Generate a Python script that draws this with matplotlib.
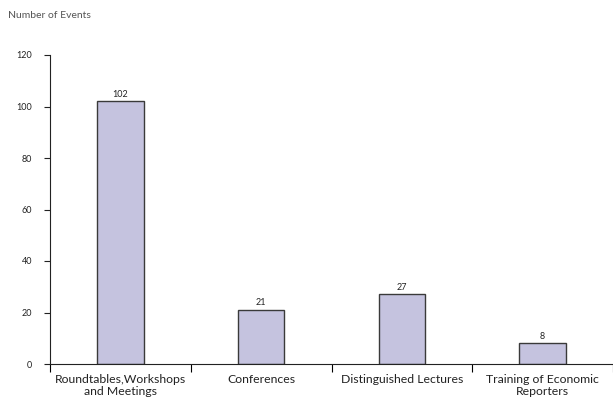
import matplotlib
matplotlib.use("Agg")
import matplotlib.pyplot as plt
import numpy as np

# Data
categories = ["Roundtables,Workshops\nand Meetings", "Conferences",
              "Distinguished Lectures", "Training of Economic\nReporters"]
events = [102, 21, 27, 8]
y_ticks = [0, 20, 40, 60, 80, 100, 120]

plt.rcParams['font.family'] = ['Lato', 'DejaVu Sans']

fig = plt.figure(figsize=(6.13, 4.01), dpi=100)
ax = fig.add_axes([50 / 613, 37 / 401, 563 / 613, 309 / 401])

x = np.arange(len(categories))
bars = ax.bar(x, events, width=0.33, color='#c5c3df', edgecolor='#3a3a3a', linewidth=1.0)

# value labels on top of bars
for bar, val in zip(bars, events):
    ax.annotate(f'{val}', xy=(bar.get_x() + bar.get_width() / 2, bar.get_height()),
                xytext=(0, 2), textcoords='offset points',
                ha='center', va='bottom', fontsize=6.5, color='#222222')

ax.set_xlim(-0.5, len(categories) - 0.5)
ax.set_ylim(0, 120)
ax.set_yticks(y_ticks)
ax.tick_params(axis='y', labelsize=6.5, length=4, width=0.8, pad=9, colors='#222222')

# category labels centred, tick marks at the boundaries
ax.set_xticks(x)
ax.set_xticklabels(categories, fontsize=8.8, color='#222222', linespacing=1.15)
ax.tick_params(axis='x', which='major', length=0, pad=7)
ax.set_xticks(np.arange(len(categories) + 1) - 0.5, minor=True)
ax.tick_params(axis='x', which='minor', length=6, width=0.8, direction='out')

for side in ['top', 'right']:
    ax.spines[side].set_visible(False)
for side in ['left', 'bottom']:
    ax.spines[side].set_linewidth(0.8)
    ax.spines[side].set_color('#222222')

fig.text(8 / 613, 1 - 16 / 401, "Number of Events", fontsize=7.5, color='#555555',
         ha='left', va='center')

fig.savefig("out.png", dpi=100)
